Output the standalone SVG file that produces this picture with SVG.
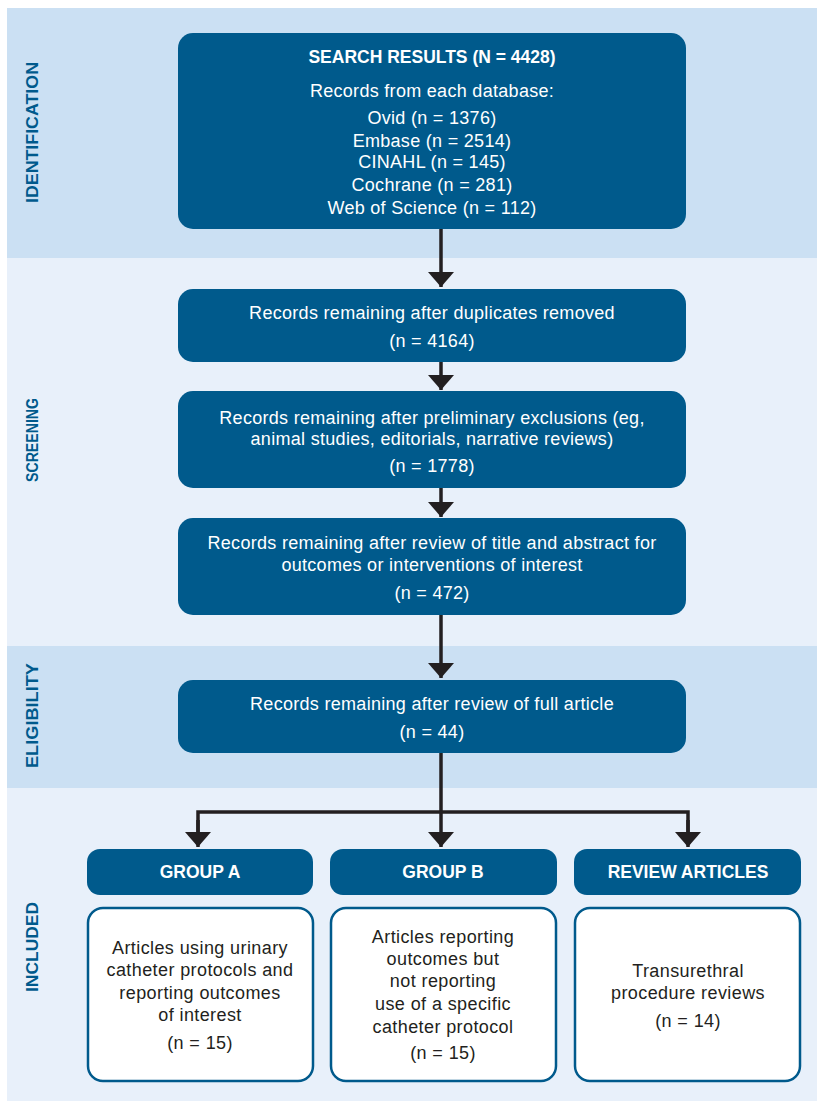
<svg xmlns="http://www.w3.org/2000/svg" width="817" height="1101" viewBox="0 0 817 1101">
<defs>
<style>
.band1{fill:#cbe0f3}
.band2{fill:#e8f0fa}
.lbl{font-family:"Liberation Sans",Arial,sans-serif;font-weight:bold;font-size:16px;fill:#005a8c;text-anchor:middle}
.box{fill:#005a8c}
.wbox{fill:#ffffff;stroke:#005a8c;stroke-width:2.5}
.t{font-family:"Liberation Sans",Arial,sans-serif;font-size:18px;fill:#ffffff;text-anchor:middle;letter-spacing:0.3px}
.tb{font-family:"Liberation Sans",Arial,sans-serif;font-size:17.5px;font-weight:bold;fill:#ffffff;text-anchor:middle}
.td{font-family:"Liberation Sans",Arial,sans-serif;font-size:18px;fill:#231f20;text-anchor:middle;letter-spacing:0.4px}
.ln{fill:none;stroke:#231f20;stroke-width:3.5}
</style>
<marker id="ah" markerWidth="15" markerHeight="26" refX="15" refY="13" orient="auto" markerUnits="userSpaceOnUse" viewBox="0 0 15 26">
<path d="M0,0 L15,13 L0,26 Z" fill="#231f20"/>
</marker>
</defs>
<g id="bands">
<rect class="band1" x="7" y="8" width="810" height="250"/>
<rect class="band2" x="7" y="258" width="810" height="388"/>
<rect class="band1" x="7" y="646" width="810" height="142"/>
<rect class="band2" x="7" y="788" width="810" height="313"/>
<text class="lbl" transform="translate(38,132.5) rotate(-90)" textLength="141" lengthAdjust="spacingAndGlyphs">IDENTIFICATION</text>
<text class="lbl" transform="translate(38,440) rotate(-90)" textLength="84" lengthAdjust="spacingAndGlyphs">SCREENING</text>
<text class="lbl" transform="translate(38,715.5) rotate(-90)" textLength="105" lengthAdjust="spacingAndGlyphs">ELIGIBILITY</text>
<text class="lbl" transform="translate(38,947) rotate(-90)" textLength="90" lengthAdjust="spacingAndGlyphs">INCLUDED</text>
</g>
<g id="connectors">
<path class="ln" d="M441,229 V287" marker-end="url(#ah)"/>
<path class="ln" d="M441,362 V390" marker-end="url(#ah)"/>
<path class="ln" d="M441,488 V517" marker-end="url(#ah)"/>
<path class="ln" d="M441,615 V678" marker-end="url(#ah)"/>
<path class="ln" d="M441,753 V847" marker-end="url(#ah)"/>
<path class="ln" d="M198,835 V812 H688 V835"/>
<path class="ln" d="M198,820 V847" marker-end="url(#ah)"/>
<path class="ln" d="M688,820 V847" marker-end="url(#ah)"/>
</g>
<g id="search">
<rect class="box" x="178" y="33" width="508" height="196" rx="15"/>
<text class="tb" x="432" y="63">SEARCH RESULTS (N = 4428)</text>
<text class="t" x="432" y="97">Records from each database:</text>
<text class="t" x="432" y="124">Ovid (n = 1376)</text>
<text class="t" x="432" y="147">Embase (n = 2514)</text>
<text class="t" x="432" y="168">CINAHL (n = 145)</text>
<text class="t" x="432" y="191">Cochrane (n = 281)</text>
<text class="t" x="432" y="214">Web of Science (n = 112)</text>
</g>
<g id="duplicates">
<rect class="box" x="178" y="289" width="508" height="73" rx="15"/>
<text class="t" x="432" y="319">Records remaining after duplicates removed</text>
<text class="t" x="432" y="347">(n = 4164)</text>
</g>
<g id="preliminary">
<rect class="box" x="178" y="391" width="508" height="97" rx="15"/>
<text class="t" x="432" y="424">Records remaining after preliminary exclusions (eg,</text>
<text class="t" x="432" y="445">animal studies, editorials, narrative reviews)</text>
<text class="t" x="432" y="472">(n = 1778)</text>
</g>
<g id="titleabstract">
<rect class="box" x="178" y="518" width="508" height="97" rx="15"/>
<text class="t" x="432" y="549">Records remaining after review of title and abstract for</text>
<text class="t" x="432" y="571">outcomes or interventions of interest</text>
<text class="t" x="432" y="599">(n = 472)</text>
</g>
<g id="fullarticle">
<rect class="box" x="178" y="680" width="508" height="73" rx="15"/>
<text class="t" x="432" y="710">Records remaining after review of full article</text>
<text class="t" x="432" y="738">(n = 44)</text>
</g>
<g id="groupA">
<rect class="box" x="87" y="849" width="226" height="46" rx="13"/>
<text class="tb" x="200" y="878">GROUP A</text>
<rect class="wbox" x="88" y="908" width="225" height="173" rx="15"/>
<text class="td" x="200" y="954">Articles using urinary</text>
<text class="td" x="200" y="976">catheter protocols and</text>
<text class="td" x="200" y="999">reporting outcomes</text>
<text class="td" x="200" y="1021">of interest</text>
<text class="td" x="200" y="1049">(n = 15)</text>
</g>
<g id="groupB">
<rect class="box" x="330" y="849" width="227" height="46" rx="13"/>
<text class="tb" x="443" y="878">GROUP B</text>
<rect class="wbox" x="331" y="908" width="225" height="173" rx="15"/>
<text class="td" x="443" y="943">Articles reporting</text>
<text class="td" x="443" y="965">outcomes but</text>
<text class="td" x="443" y="987">not reporting</text>
<text class="td" x="443" y="1010">use of a specific</text>
<text class="td" x="443" y="1033">catheter protocol</text>
<text class="td" x="443" y="1059">(n = 15)</text>
</g>
<g id="review">
<rect class="box" x="574" y="849" width="227" height="46" rx="13"/>
<text class="tb" x="688" y="878">REVIEW ARTICLES</text>
<rect class="wbox" x="575" y="908" width="225" height="173" rx="15"/>
<text class="td" x="688" y="977">Transurethral</text>
<text class="td" x="688" y="999">procedure reviews</text>
<text class="td" x="688" y="1027">(n = 14)</text>
</g>
</svg>
